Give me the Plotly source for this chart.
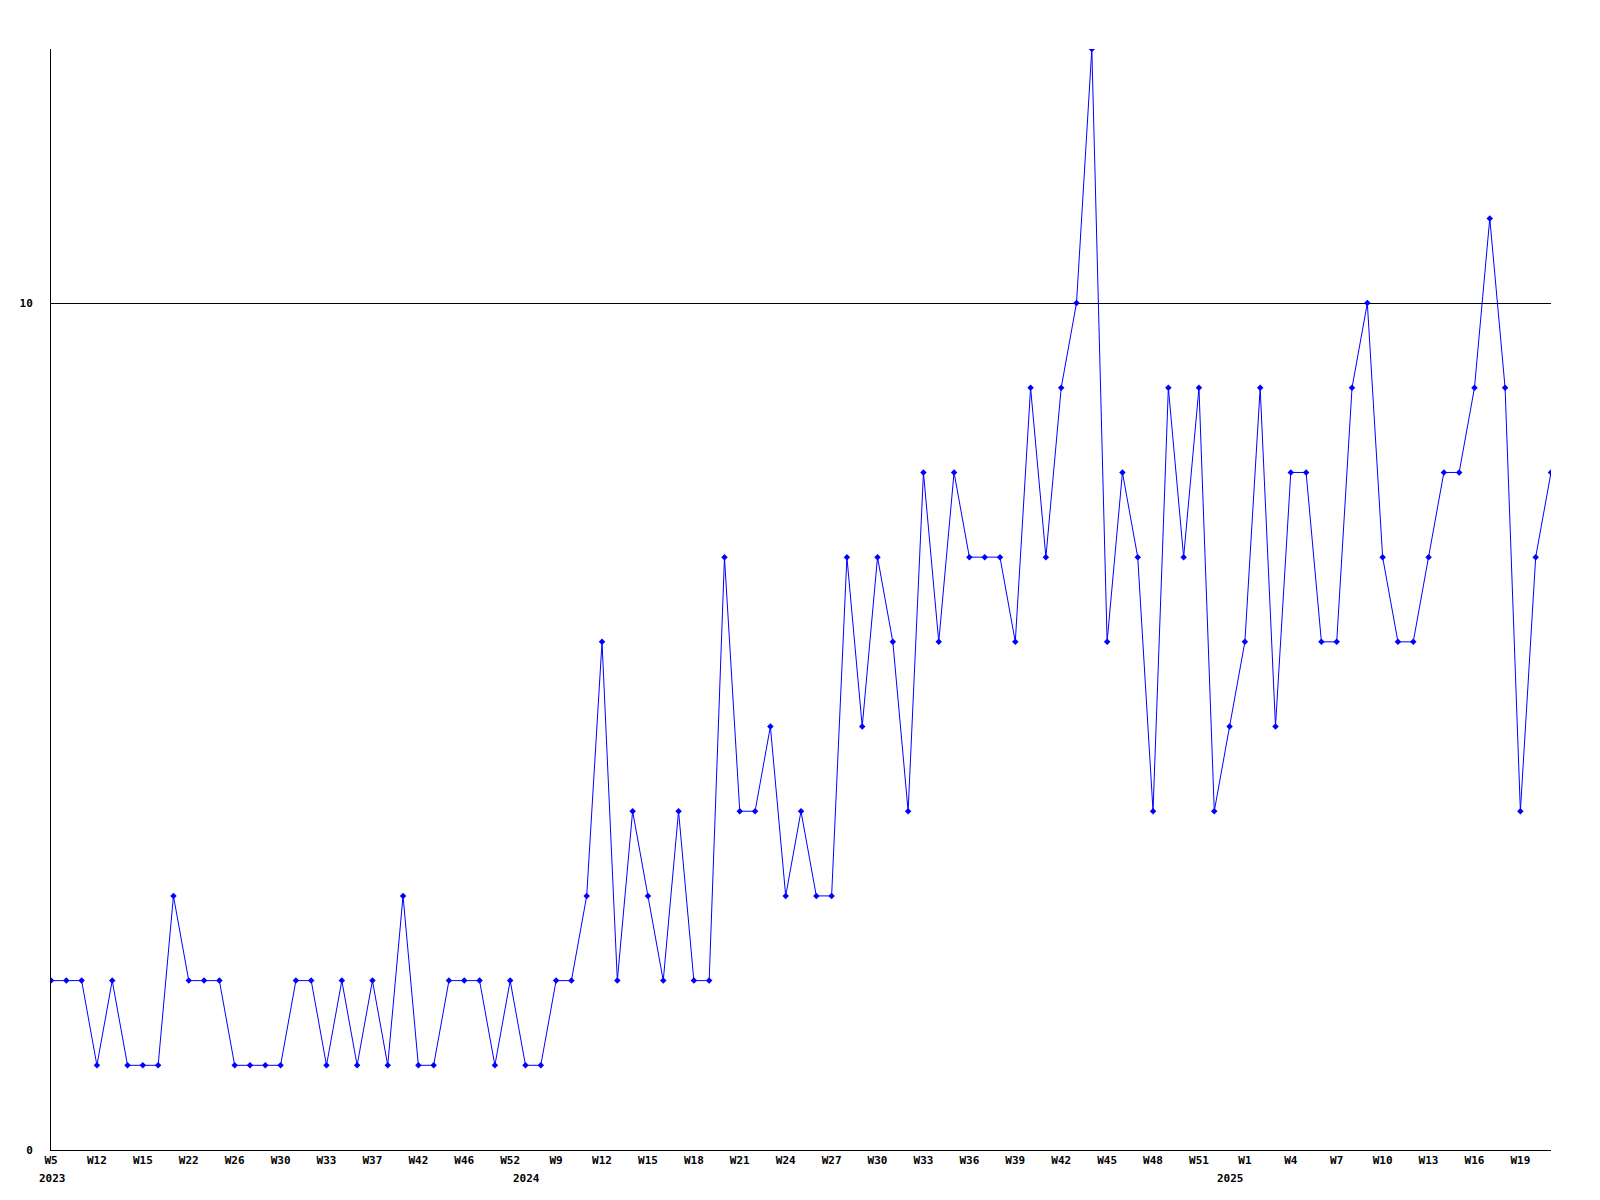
import plotly.graph_objects as go

# Weekly values (one per point)
values = [2, 2, 2, 1, 2, 1, 1, 1, 3, 2,
          2, 2, 1, 1, 1, 1, 2, 2, 1, 2,
          1, 2, 1, 3, 1, 1, 2, 2, 2, 1,
          2, 1, 1, 2, 2, 3, 6, 2, 4, 3,
          2, 4, 2, 2, 7, 4, 4, 5, 3, 4,
          3, 3, 7, 5, 7, 6, 4, 8, 6, 8,
          7, 7, 7, 6, 9, 7, 9, 10, 13, 6,
          8, 7, 4, 9, 7, 9, 4, 5, 6, 9,
          5, 8, 8, 6, 6, 9, 10, 7, 6, 6,
          7, 8, 8, 9, 11, 9, 4, 7, 8]

# Week tick labels, one for every third point
tick_labels = ["W5", "W12", "W15", "W22", "W26", "W30", "W33", "W37", "W42", "W46",
               "W52", "W9", "W12", "W15", "W18", "W21", "W24", "W27", "W30", "W33",
               "W36", "W39", "W42", "W45", "W48", "W51", "W1", "W4", "W7", "W10",
               "W13", "W16", "W19"]
tick_step = 3

# Year labels and the point index where each year starts
year_labels = ["2023", "2024", "2025"]
year_index = [0, 31, 77]

x = list(range(len(values)))
tickvals = [i * tick_step for i in range(len(tick_labels))]

FONT = "DejaVu Sans Mono"
TF = dict(family=FONT, size=11, color="black", weight="bold")

fig = go.Figure()
fig.add_trace(go.Scatter(
    x=x, y=values, mode="lines+markers",
    line=dict(color="#0000FF", width=1),
    marker=dict(symbol="diamond", size=5, color="#0000FF"),
    showlegend=False, cliponaxis=True,
))

for lab, xi in zip(year_labels, year_index):
    fig.add_annotation(
        x=xi, y=0, xref="x", yref="paper", text=lab, showarrow=False,
        yanchor="top", xanchor="center", yshift=-20, xshift=1,
        font=TF,
    )

fig.update_layout(
    width=1584, height=1184,
    margin=dict(l=43, r=41, t=41, b=42),
    plot_bgcolor="white", paper_bgcolor="white",
    font=TF,
)
fig.update_xaxes(
    range=[0, len(values) - 1],
    tickmode="array", tickvals=tickvals, ticktext=tick_labels,
    showgrid=False, zeroline=False,
    showline=True, linecolor="black", linewidth=1,
    ticks="", ticklen=0,
    tickfont=TF,
)
fig.update_yaxes(
    range=[0, 13],
    tickmode="array", tickvals=[0, 10], ticktext=["0", "10"],
    showgrid=True, gridcolor="black", gridwidth=1,
    zeroline=False,
    showline=True, linecolor="black", linewidth=1,
    ticks="", ticklen=0, ticklabelstandoff=15,
    tickfont=TF,
)

fig.write_html("out.html")
